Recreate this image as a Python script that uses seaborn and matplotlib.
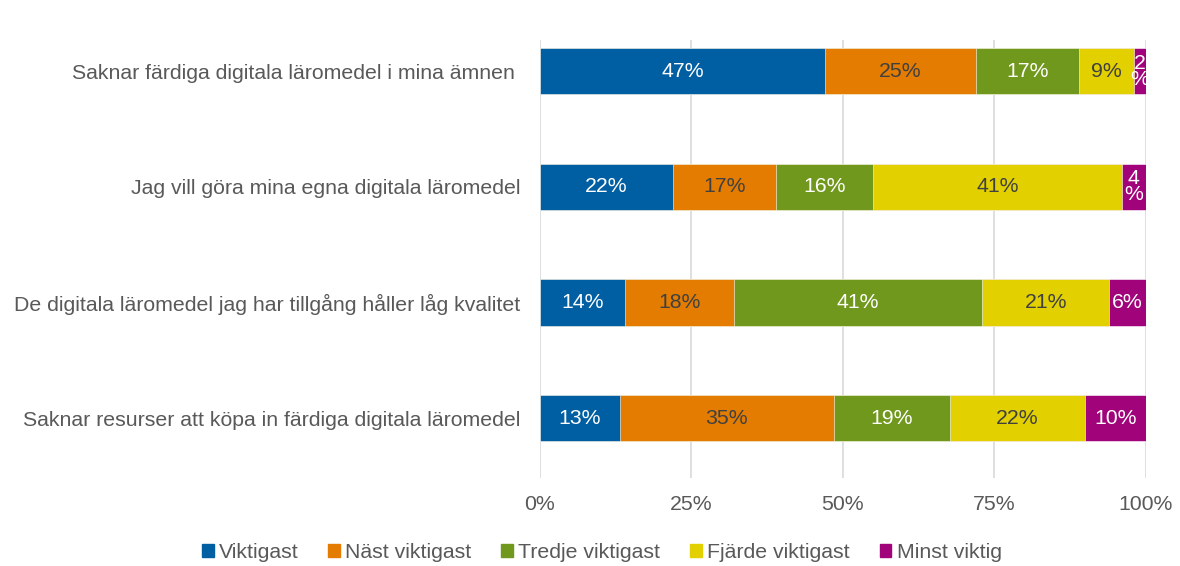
import matplotlib
matplotlib.use("Agg")
import matplotlib.pyplot as plt
import seaborn as sns
import pandas as pd
import numpy as np

# survey answers, share per reason (percent)
reasons = [
    "Saknar färdiga digitala läromedel i mina ämnen ",
    "Jag vill göra mina egna digitala läromedel",
    "De digitala läromedel jag har tillgång håller låg kvalitet",
    "Saknar resurser att köpa in färdiga digitala läromedel",
]
ranks = ["Viktigast", "Näst viktigast", "Tredje viktigast", "Fjärde viktigast", "Minst viktig"]
viktigast = [47, 22, 14, 13]
nast = [25, 17, 18, 35]
tredje = [17, 16, 41, 19]
fjarde = [9, 41, 21, 22]
minst = [2, 4, 6, 10]

colors = ["#005EA2", "#E37C00", "#70981C", "#E2D000", "#A0037A"]
label_colors = ["white", "#404040", "white", "#404040", "white"]

df = pd.DataFrame({"reason": reasons, "Viktigast": viktigast, "Näst viktigast": nast,
                   "Tredje viktigast": tredje, "Fjärde viktigast": fjarde, "Minst viktig": minst})
vals = df[ranks].to_numpy(dtype=float)
shares = vals / vals.sum(axis=1, keepdims=True) * 100   # rows drawn to full width
cum = shares.cumsum(axis=1)

sns.set_theme(style="white")
plt.rcParams["font.family"] = ["Liberation Sans", "DejaVu Sans"]
txt = "#595959"
fs = 15.3

fig = plt.figure(figsize=(11.8, 5.66), dpi=100)
ax = fig.add_axes([0.4576, 0.155, 0.5134, 0.774])

# stacked bars: draw cumulative totals from the last series back to the first
for j in reversed(range(len(ranks))):
    d = pd.DataFrame({"reason": reasons, "end": cum[:, j]})
    sns.barplot(data=d, x="end", y="reason", orient="h", color=colors[j],
                saturation=1, width=0.4, ax=ax, zorder=3, edgecolor="white", linewidth=0.4)

for i in range(len(reasons)):
    for j in range(len(ranks)):
        v = int(vals[i, j])
        mid = cum[i, j] - shares[i, j] / 2
        lab = f"{v}%" if shares[i, j] >= 5 else f"{v}\n%"
        ax.text(mid, i, lab, ha="center", va="center", fontsize=fs,
                color=label_colors[j], linespacing=0.8, zorder=5)

ax.set_xlim(0, 100)
ax.set_ylim(3 + 60 / 115.7, -31 / 115.7)
ax.set_xticks([0, 25, 50, 75, 100])
ax.set_xticklabels(["0%", "25%", "50%", "75%", "100%"])
ax.xaxis.grid(True, color="#D9D9D9", linewidth=1.2, zorder=0)
ax.set_axisbelow(True)
ax.set_xlabel("")
ax.set_ylabel("")
for s in ax.spines.values():
    s.set_visible(False)
ax.tick_params(axis="x", length=0, pad=12, labelsize=fs, labelcolor=txt)
ax.tick_params(axis="y", length=0, pad=14, labelsize=fs, labelcolor=txt)

handles = [plt.Rectangle((0, 0), 1, 1, color=c) for c in colors]
fig.legend(handles, ranks, loc="lower center", bbox_to_anchor=(0.51, -0.027), ncol=5, frameon=False,
           fontsize=fs, labelcolor=txt, handlelength=0.55, handleheight=0.55, handletextpad=0.25,
           columnspacing=1.4)

fig.savefig("out.png", dpi=100)
